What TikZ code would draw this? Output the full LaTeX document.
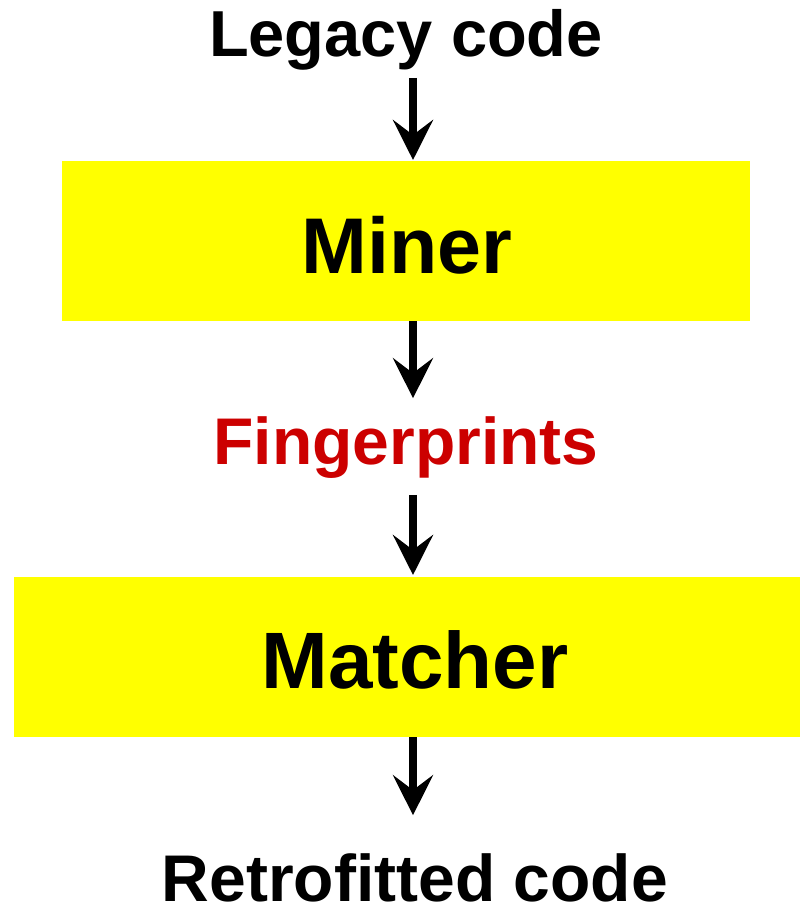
\documentclass[tikz,border=0pt]{standalone}
\usepackage{fontspec}
\setmainfont{Liberation Sans}
\usetikzlibrary{arrows.meta}
\definecolor{boxyellow}{RGB}{255,255,0}
\definecolor{fpred}{RGB}{204,0,0}
\begin{document}
\begin{tikzpicture}[x=1pt,y=-1pt,
  label text/.style={inner sep=0pt,outer sep=0pt,anchor=base,font=\bfseries\fontsize{65}{65}\selectfont},
  stage/.style={fill=boxyellow,draw=none,inner sep=0pt,outer sep=0pt,anchor=north west},
  stage text/.style={inner sep=0pt,anchor=base,font=\bfseries\fontsize{79}{79}\selectfont},
  flow/.style={line width=7.5pt,-{Stealth[length=40pt,width=40pt,inset=15pt]}}]
\useasboundingbox (0,0) rectangle (800,908);

% column the flow arrows run along
\coordinate (col) at (413,0);

% stages
\node[stage,minimum width=688pt,minimum height=160pt] (miner) at (62,161) {};
\node[stage,minimum width=786pt,minimum height=160pt] (matcher) at (14,577) {};
\node[stage text] at (407,273) {Miner};
\node[stage text,font=\bfseries\fontsize{80}{80}\selectfont] at (415,688) {Matcher};

% data items
\node[label text] (legacy) at (406,56) {Legacy code};
\node[label text,text=fpred,font=\bfseries\fontsize{66}{66}\selectfont] (fp) at (406,464) {Fingerprints};
\node[label text,font=\bfseries\fontsize{66}{66}\selectfont] (retro) at (415,901) {Retrofitted code};

% flow
\draw[flow,shorten <=8pt,shorten >=1pt] (legacy.south -| col) -- (miner.north -| col);
\draw[flow,shorten >=18pt] (miner.south -| col) -- (fp.north -| col);
\draw[flow,shorten <=17pt,shorten >=2pt] (fp.south -| col) -- (matcher.north -| col);
\draw[flow,shorten >=38pt] (matcher.south -| col) -- (retro.north -| col);
\end{tikzpicture}
\end{document}
